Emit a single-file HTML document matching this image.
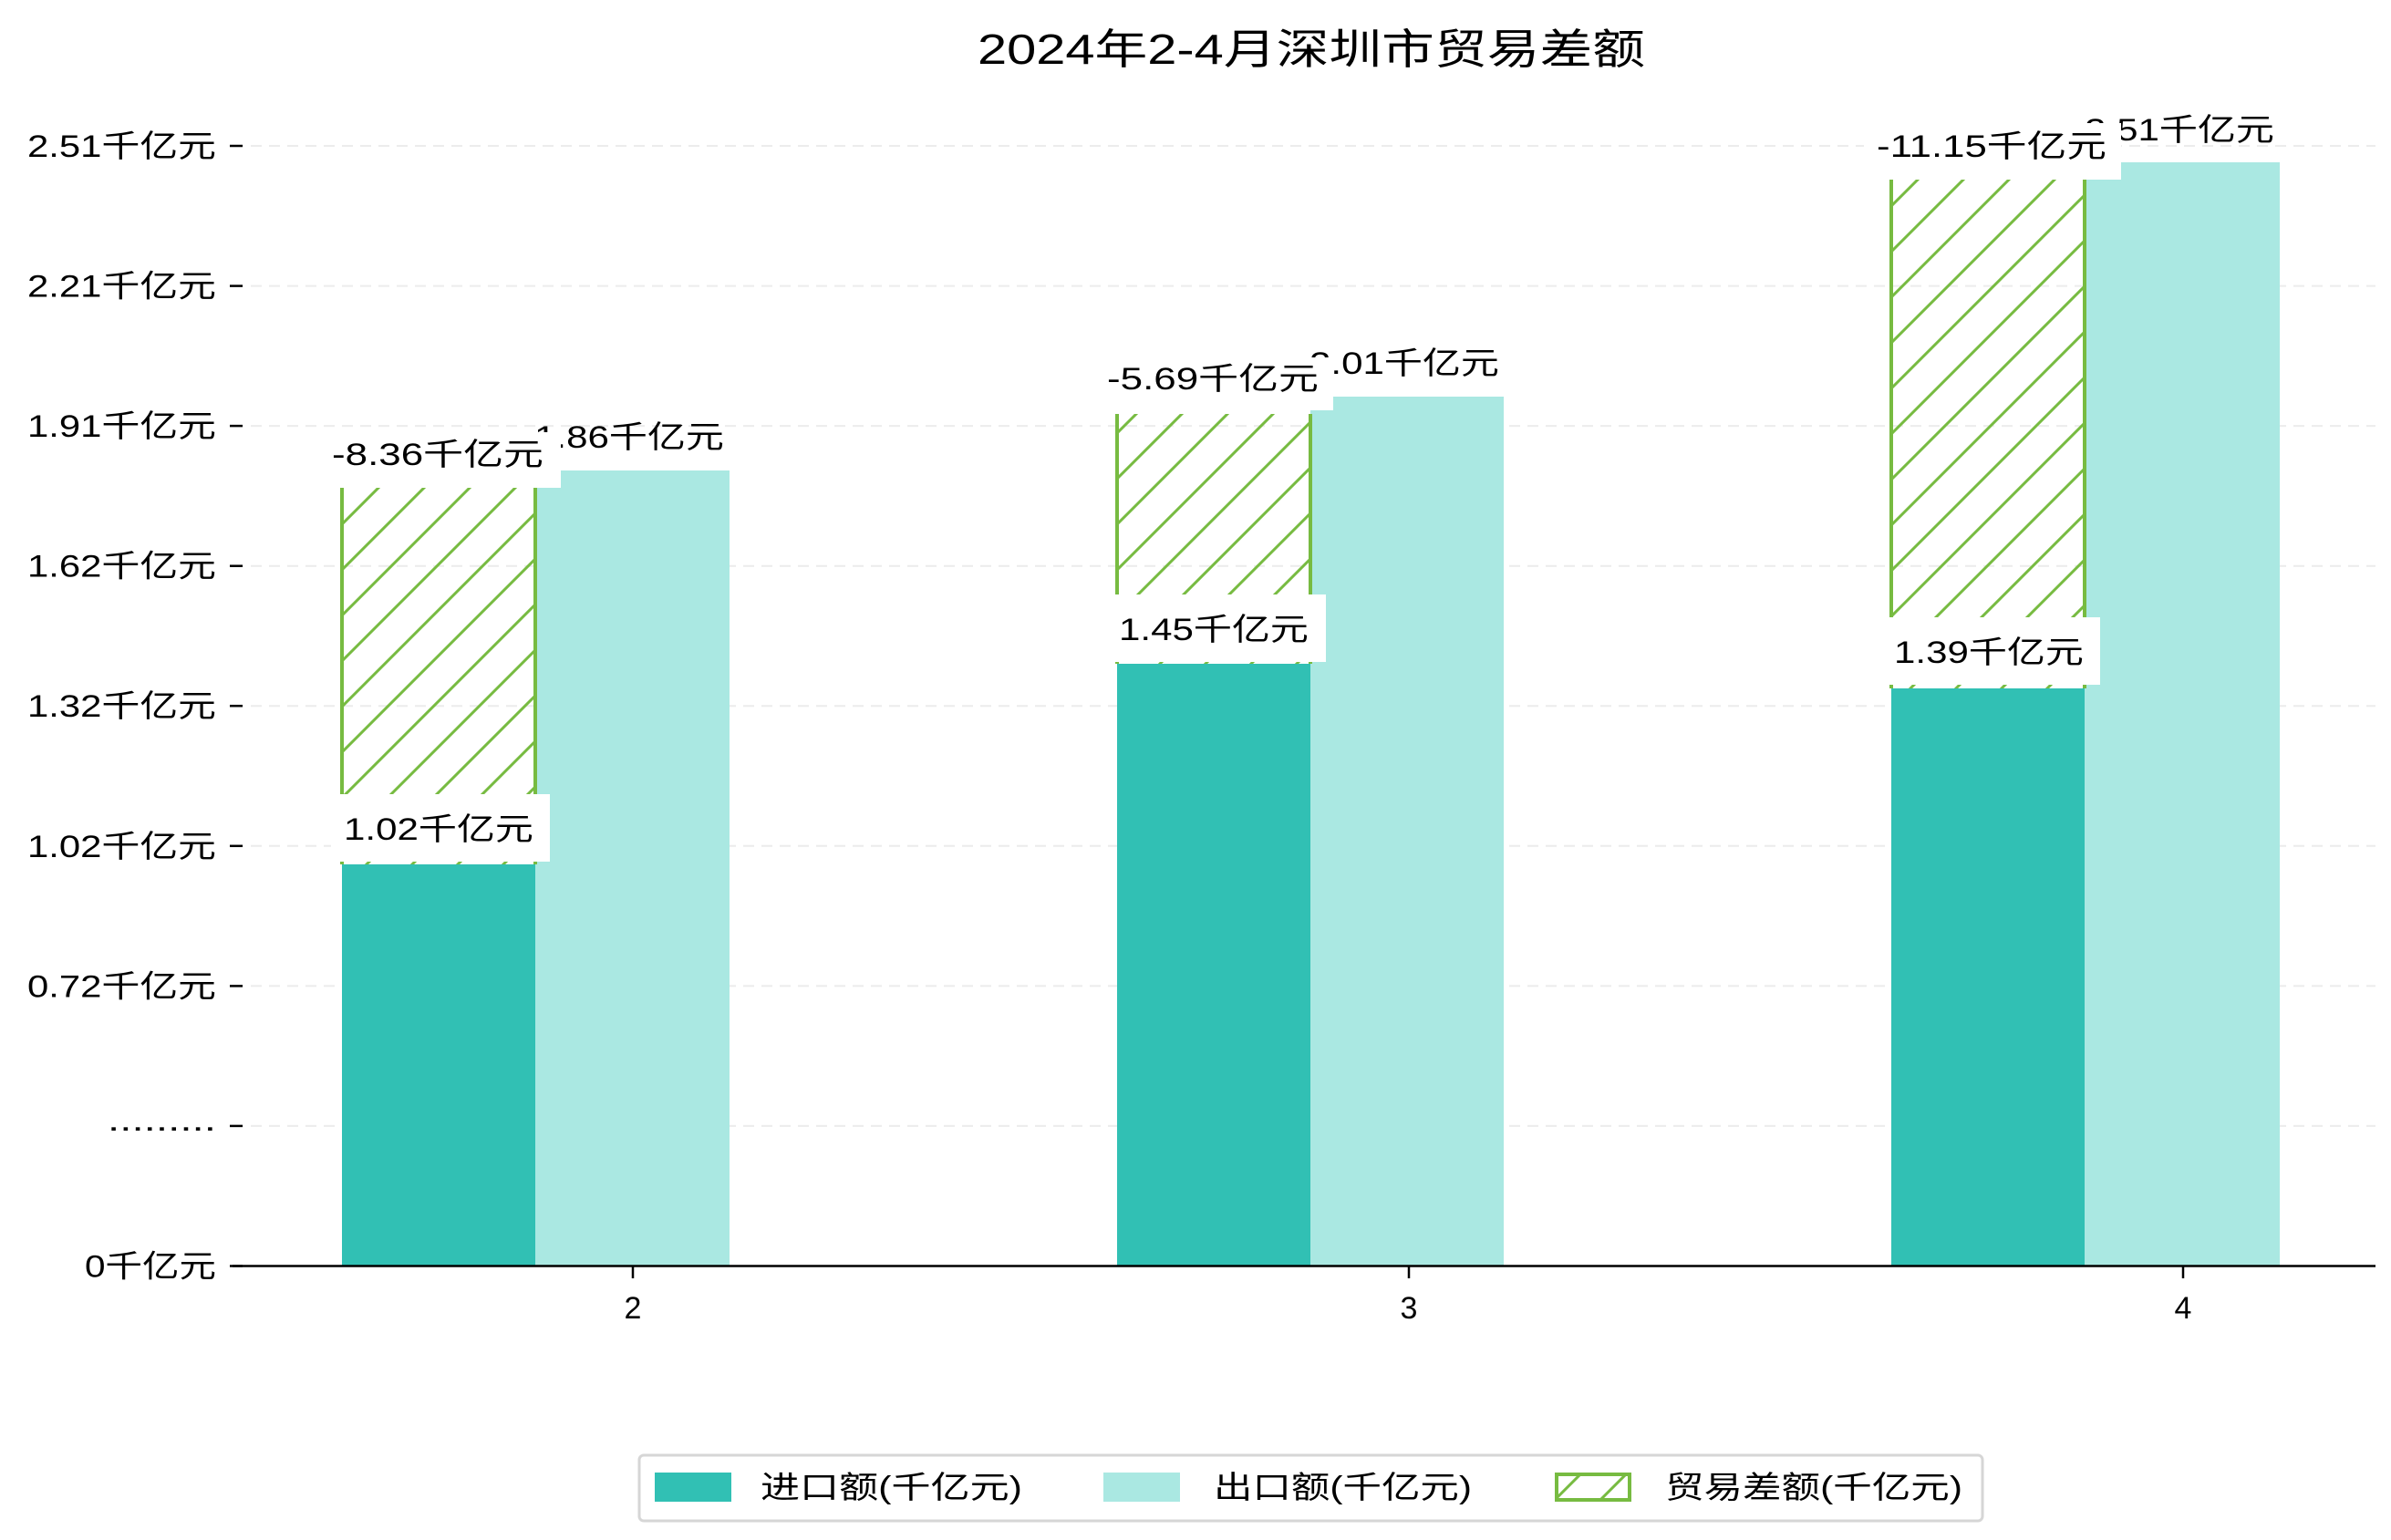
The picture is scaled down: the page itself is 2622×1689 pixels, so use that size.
<!DOCTYPE html>
<html><head><meta charset="utf-8"><style>
html,body{margin:0;padding:0;background:#fff;}
svg{display:block;}
text{font-family:"Liberation Sans","Noto Sans CJK SC",sans-serif;fill:#000;}
</style></head><body>
<svg width="2622" height="1689" viewBox="0 0 2622 1689" xmlns="http://www.w3.org/2000/svg">
<defs>
<pattern id="h" patternUnits="userSpaceOnUse" width="50" height="50">
<path d="M-10,60 L60,-10 M-10,10 L10,-10 M40,60 L60,40" stroke="#77bb41" stroke-width="3" fill="none"/>
</pattern>
</defs>
<text x="1438" y="70" font-size="46" text-anchor="middle" textLength="732" lengthAdjust="spacingAndGlyphs">2024年2-4月深圳市贸易差额</text>
<g stroke="#ececec" stroke-width="2" stroke-dasharray="12,8">
<line x1="255" y1="160" x2="2605" y2="160"/><line x1="255" y1="313.6" x2="2605" y2="313.6"/>
<line x1="255" y1="467.1" x2="2605" y2="467.1"/><line x1="255" y1="620.7" x2="2605" y2="620.7"/>
<line x1="255" y1="774.2" x2="2605" y2="774.2"/><line x1="255" y1="927.8" x2="2605" y2="927.8"/>
<line x1="255" y1="1081.4" x2="2605" y2="1081.4"/><line x1="255" y1="1234.9" x2="2605" y2="1234.9"/>
</g>
<g stroke="#000" stroke-width="2.5">
<line x1="252" y1="160" x2="266" y2="160"/><line x1="252" y1="313.6" x2="266" y2="313.6"/>
<line x1="252" y1="467.1" x2="266" y2="467.1"/><line x1="252" y1="620.7" x2="266" y2="620.7"/>
<line x1="252" y1="774.2" x2="266" y2="774.2"/><line x1="252" y1="927.8" x2="266" y2="927.8"/>
<line x1="252" y1="1081.4" x2="266" y2="1081.4"/><line x1="252" y1="1234.9" x2="266" y2="1234.9"/>
<line x1="252" y1="1388.5" x2="266" y2="1388.5"/>
<line x1="694" y1="1388" x2="694" y2="1402"/><line x1="1545" y1="1388" x2="1545" y2="1402"/><line x1="2394" y1="1388" x2="2394" y2="1402"/>
</g>
<g font-size="34" text-anchor="end">
<text x="237" y="172" textLength="207" lengthAdjust="spacingAndGlyphs">2.51千亿元</text>
<text x="237" y="325.6" textLength="207" lengthAdjust="spacingAndGlyphs">2.21千亿元</text>
<text x="237" y="479.1" textLength="207" lengthAdjust="spacingAndGlyphs">1.91千亿元</text>
<text x="237" y="632.7" textLength="207" lengthAdjust="spacingAndGlyphs">1.62千亿元</text>
<text x="237" y="786.2" textLength="207" lengthAdjust="spacingAndGlyphs">1.32千亿元</text>
<text x="237" y="939.8" textLength="207" lengthAdjust="spacingAndGlyphs">1.02千亿元</text>
<text x="237" y="1093.4" textLength="207" lengthAdjust="spacingAndGlyphs">0.72千亿元</text>
<text x="237" y="1240" textLength="119" lengthAdjust="spacingAndGlyphs">.........</text>
<text x="237" y="1400.5" textLength="144" lengthAdjust="spacingAndGlyphs">0千亿元</text>
</g>
<g font-size="34" text-anchor="middle">
<text x="694" y="1446">2</text><text x="1545" y="1446">3</text><text x="2394" y="1446">4</text>
</g>
<!-- bars -->
<rect x="375" y="948" width="212" height="440.5" fill="#31c0b4"/>
<rect x="587" y="516" width="213" height="872.5" fill="#aae8e2"/>
<rect x="1225" y="728" width="212" height="660.5" fill="#31c0b4"/>
<rect x="1437" y="435" width="212" height="953.5" fill="#aae8e2"/>
<rect x="2074" y="755" width="212" height="633.5" fill="#31c0b4"/>
<rect x="2286" y="178" width="214" height="1210.5" fill="#aae8e2"/>
<!-- hatched -->
<rect x="375" y="535" width="212" height="413" fill="url(#h)"/>
<rect x="1225" y="454" width="212" height="274" fill="url(#h)"/>
<rect x="2074" y="197" width="212" height="558" fill="url(#h)"/>
<g stroke="#77bb41" stroke-width="4">
<line x1="375" y1="535" x2="375" y2="948"/><line x1="587" y1="535" x2="587" y2="948"/>
<line x1="1225" y1="454" x2="1225" y2="728"/><line x1="1437" y1="454" x2="1437" y2="728"/>
<line x1="2074" y1="197" x2="2074" y2="755"/><line x1="2286" y1="197" x2="2286" y2="755"/>
</g>
<line x1="255" y1="1388.5" x2="2605" y2="1388.5" stroke="#000" stroke-width="2.5"/>
<!-- export labels -->
<g font-size="34" text-anchor="middle">
<text x="690" y="491" textLength="208" lengthAdjust="spacingAndGlyphs">1.86千亿元</text>
<text x="1540" y="410" textLength="208" lengthAdjust="spacingAndGlyphs">2.01千亿元</text>
<text x="2390" y="154" textLength="208" lengthAdjust="spacingAndGlyphs">2.51千亿元</text>
</g>
<!-- label boxes -->
<g fill="#fff">
<rect x="363" y="871" width="240" height="74"/>
<rect x="353" y="474" width="262" height="61"/>
<rect x="1214" y="652" width="240" height="74"/>
<rect x="1204" y="392" width="258" height="58"/>
<rect x="2064" y="677" width="239" height="74"/>
<rect x="2044" y="135" width="282" height="62"/>
</g>
<g font-size="34" text-anchor="middle">
<text x="481" y="921" textLength="208" lengthAdjust="spacingAndGlyphs">1.02千亿元</text>
<text x="480" y="510" textLength="232" lengthAdjust="spacingAndGlyphs">-8.36千亿元</text>
<text x="1331" y="702" textLength="208" lengthAdjust="spacingAndGlyphs">1.45千亿元</text>
<text x="1330" y="427" textLength="232" lengthAdjust="spacingAndGlyphs">-5.69千亿元</text>
<text x="2181" y="727" textLength="208" lengthAdjust="spacingAndGlyphs">1.39千亿元</text>
<text x="2184" y="172" textLength="252" lengthAdjust="spacingAndGlyphs">-11.15千亿元</text>
</g>
<!-- legend -->
<rect x="701" y="1596" width="1473" height="72" rx="5" fill="#fff" stroke="#d6d6d6" stroke-width="3"/>
<rect x="718" y="1615" width="84" height="32" fill="#31c0b4"/>
<rect x="1210" y="1615" width="84" height="32" fill="#aae8e2"/>
<rect x="1707" y="1617" width="80" height="28" fill="url(#h)" stroke="#77bb41" stroke-width="4"/>
<g font-size="34">
<text x="834" y="1643" textLength="287" lengthAdjust="spacingAndGlyphs">进口额(千亿元)</text>
<text x="1331" y="1643" textLength="283" lengthAdjust="spacingAndGlyphs">出口额(千亿元)</text>
<text x="1826" y="1643" textLength="326" lengthAdjust="spacingAndGlyphs">贸易差额(千亿元)</text>
</g>
</svg>
</body></html>
